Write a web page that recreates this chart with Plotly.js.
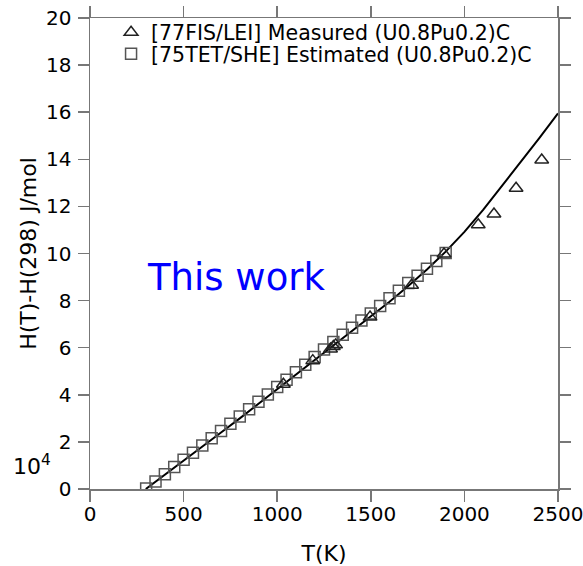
<!DOCTYPE html>
<html><head><meta charset="utf-8">
<script src="https://cdn.plot.ly/plotly-3.0.1.min.js"></script>
<style>html,body{margin:0;padding:0;background:#fff}</style>
</head><body>
<div id="chart" style="width:583px;height:566px"></div>
<script>
// Calculated curve (This work), H(T)-H(298) in 1e4 J/mol
var calcT = [298, 400, 500, 600, 700, 800, 900, 1000, 1100, 1200, 1300, 1400, 1500, 1600, 1700, 1800, 1900, 2000, 2100, 2200, 2300, 2400, 2500];
var calcH = [0, 0.6, 1.2, 1.8, 2.4, 3.0, 3.62, 4.25, 4.87, 5.5, 6.12, 6.72, 7.32, 7.95, 8.62, 9.32, 10.08, 10.92, 11.85, 12.85, 13.87, 14.9, 15.95];

// [77FIS/LEI] Measured
var measT = [1033, 1190, 1285, 1300, 1312, 1496, 1718, 1891, 2074, 2158, 2276, 2413];
var measH = [4.45, 5.45, 5.95, 6.05, 6.12, 7.3, 8.65, 9.98, 11.22, 11.68, 12.77, 13.97];

// [75TET/SHE] Estimated
var estT = [300, 350, 400, 450, 500, 550, 600, 650, 700, 750, 800, 850, 900, 950, 1000, 1050, 1100, 1150, 1200, 1250, 1300, 1350, 1400, 1450, 1500, 1550, 1600, 1650, 1700, 1750, 1800, 1850, 1900];
var estH = [0.02, 0.32, 0.63, 0.93, 1.24, 1.54, 1.85, 2.15, 2.46, 2.77, 3.08, 3.39, 3.7, 4.01, 4.33, 4.64, 4.96, 5.28, 5.6, 5.92, 6.24, 6.55, 6.85, 7.15, 7.45, 7.77, 8.1, 8.42, 8.75, 9.05, 9.35, 9.68, 10.02];

var xTicks = [0, 500, 1000, 1500, 2000, 2500];
var yTicks = [0, 2, 4, 6, 8, 10, 12, 14, 16, 18, 20];

var FONT = "DejaVu Sans, sans-serif";
var axisColor = "#777";

var traces = [
  {x: calcT, y: calcH, mode: "lines", line: {color: "#000", width: 2}, showlegend: false, hoverinfo: "skip"},
  {x: estT, y: estH, mode: "markers", name: "[75TET/SHE] Estimated (U0.8Pu0.2)C", legend: "legend2",
   marker: {symbol: "square-open", size: 11, color: "#555", line: {width: 1.5, color: "#555"}}},
  {x: measT, y: measH, mode: "markers", name: "[77FIS/LEI] Measured (U0.8Pu0.2)C", legend: "legend",
   marker: {symbol: "triangle-up-open", size: 12, color: "#222", line: {width: 1.5, color: "#222"}}}
];

var axBase = {
  showgrid: false, zeroline: false, showline: true, linecolor: axisColor, linewidth: 1.5,
  mirror: "ticks", ticks: "outside", ticklen: 11, tickwidth: 1.5, tickcolor: axisColor,
  ticklabeloverflow: "allow",
  tickfont: {family: FONT, size: 20, color: "#000"}
};

var layout = {
  width: 583, height: 566,
  margin: {l: 90, r: 25, t: 18, b: 77},
  paper_bgcolor: "#fff", plot_bgcolor: "#fff",
  font: {family: FONT, color: "#000"},
  xaxis: Object.assign({}, axBase, {range: [0, 2500], tickvals: xTicks, ticktext: xTicks.map(String),
    ticklabelstandoff: -5,
    title: {text: "T(K)", font: {family: FONT, size: 22, color: "#000"}}}),
  yaxis: Object.assign({}, axBase, {range: [0, 20], tickvals: yTicks, ticktext: yTicks.map(String),
    ticklabelstandoff: 2,
    title: {text: "H(T)-H(298) J/mol", font: {family: FONT, size: 22, color: "#000"}}}),
  legend: {x: 0.045, y: 1.012, xanchor: "left", yanchor: "top", bgcolor: "rgba(0,0,0,0)",
    font: {family: FONT, size: 20.5, color: "#000"}},
  legend2: {x: 0.045, y: 0.966, xanchor: "left", yanchor: "top", bgcolor: "rgba(0,0,0,0)",
    font: {family: FONT, size: 20.5, color: "#000"}},
  annotations: [
    {text: "This work", xref: "paper", yref: "paper", x: 0.1175, y: 0.448, xanchor: "left", yanchor: "middle",
     showarrow: false, font: {family: FONT, size: 37, color: "#0000ff"}},
    {text: "10<sup>4</sup>", xref: "paper", yref: "paper", x: -0.124, y: 0.051, xanchor: "center", yanchor: "middle",
     showarrow: false, font: {family: FONT, size: 22, color: "#000"}}
  ]
};

Plotly.newPlot("chart", traces, layout, {displayModeBar: false, staticPlot: true});
</script>
</body></html>
